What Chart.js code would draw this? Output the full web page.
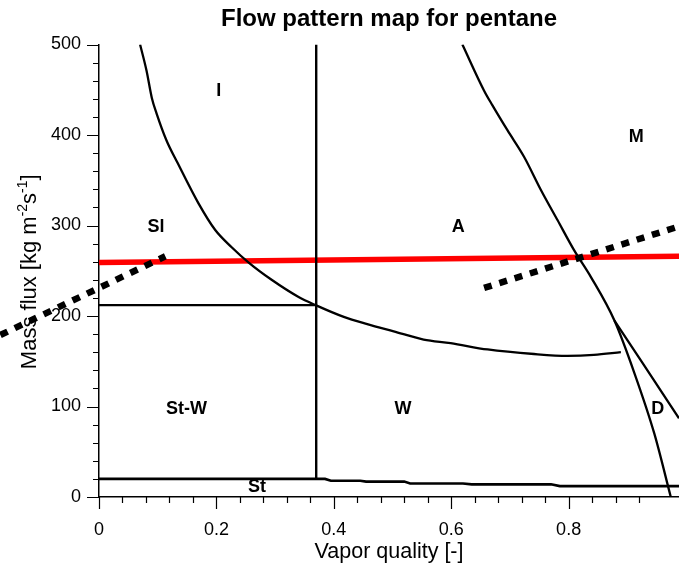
<!DOCTYPE html>
<html>
<head>
<meta charset="utf-8">
<script src="https://cdn.jsdelivr.net/npm/chart.js@4.4.0/dist/chart.umd.min.js"></script>
<style>
    html, body { margin: 0; padding: 0; background: #fff; }
    canvas { display: block; }
</style>
</head>
<body>
<canvas id="mapa" width="679" height="566"></canvas>
<script>
// axis tick labels
var xTicks = [0, 0.2, 0.4, 0.6, 0.8];
var yTicks = [0, 100, 200, 300, 400, 500];

// stratified boundary (St)
var stX = [0, 0.37, 0.385, 0.395, 0.445, 0.455, 0.52, 0.53, 0.62, 0.635, 0.77, 0.785, 0.988];
var stY = [20, 20, 20, 18, 18, 17, 17, 15, 15, 14, 14, 12, 12];

// vertical I / A and St-W / W split
var vertX = [0.37, 0.37];
var vertY = [20, 500];

// horizontal Sl / St-W split
var horizX = [0, 0.37];
var horizY = [212, 212];

// intermittent -> annular -> wavy curve
var curveIX = [0.070, 0.081, 0.090, 0.098, 0.115, 0.134, 0.169, 0.198, 0.226, 0.255, 0.294, 0.340, 0.369,
               0.417, 0.457, 0.502, 0.553, 0.599, 0.662, 0.741, 0.798, 0.843, 0.889];
var curveIY = [500, 471, 441, 424, 394, 369, 325, 295, 276, 259, 240, 221, 212,
               199, 191, 183, 174, 170, 163, 158, 156, 157, 160];

// annular -> mist / dryout curve
var curveMX = [0.619, 0.656, 0.670, 0.696, 0.724, 0.753, 0.781, 0.809, 0.838, 0.878, 0.912, 0.946, 0.974];
var curveMY = [500, 449, 433, 405, 376, 339, 306, 273, 243, 195, 137, 70, 0];

// dryout -> mist branch
var curveDX = [0.878, 0.923, 0.988];
var curveDY = [195, 151, 87];

// red transition line
var redX = [0, 0.988];
var redY = [259, 266];

// dotted transition lines
var dotLeftX = [-0.168, 0.113];
var dotLeftY = [179, 266];
var dotRightX = [0.656, 0.988];
var dotRightY = [231, 299];

// regime names
var zoneNames = ['I', 'Sl', 'A', 'M', 'St-W', 'W', 'D', 'St'];
var zoneX = [0.204, 0.097, 0.612, 0.915, 0.149, 0.518, 0.952, 0.269];
var zoneY = [449, 298, 298, 398, 97, 97, 97, 11];

var FUENTE = '"Liberation Sans", Arial, Helvetica, sans-serif';

function pares(xs, ys) {
    return xs.map(function (x, i) { return { x: x, y: ys[i] }; });
}

function esTick(lista, v) {
    return lista.some(function (t) { return Math.abs(t - v) < 1e-6; });
}

function linea(xs, ys, color, ancho, extra) {
    var ds = {
        data: pares(xs, ys),
        showLine: true,
        borderColor: color,
        borderWidth: ancho,
        pointRadius: 0,
        fill: false,
        tension: 0
    };
    for (var k in extra) { ds[k] = extra[k]; }
    return ds;
}

// tick marks: long at labelled values, short in between
var marcasTicks = {
    id: 'marcasTicks',
    afterDraw: function (chart) {
        var ctx = chart.ctx;
        var xs = chart.scales.x;
        var ys = chart.scales.y;
        var area = chart.chartArea;
        ctx.save();
        ctx.strokeStyle = '#000';
        ctx.lineWidth = 1.2;
        ctx.beginPath();
        xs.ticks.forEach(function (t) {
            var px = Math.round(xs.getPixelForValue(t.value)) + 0.5;
            var largo = esTick(xTicks, t.value) ? 12 : 6;
            ctx.moveTo(px, area.bottom);
            ctx.lineTo(px, area.bottom + largo);
        });
        ys.ticks.forEach(function (t) {
            var py = Math.round(ys.getPixelForValue(t.value)) + 0.5;
            var largo = esTick(yTicks, t.value) ? 12 : 6;
            ctx.moveTo(area.left, py);
            ctx.lineTo(area.left - largo, py);
        });
        ctx.stroke();
        ctx.restore();
    }
};

// regime names and the y axis title with superscripts
var textos = {
    id: 'textos',
    afterDraw: function (chart) {
        var ctx = chart.ctx;
        var xs = chart.scales.x;
        var ys = chart.scales.y;
        ctx.save();
        ctx.fillStyle = '#000';
        ctx.font = 'bold 18px ' + FUENTE;
        ctx.textAlign = 'center';
        ctx.textBaseline = 'middle';
        zoneNames.forEach(function (n, i) {
            ctx.fillText(n, xs.getPixelForValue(zoneX[i]), ys.getPixelForValue(zoneY[i]));
        });

        var partes = [
            { t: 'Mass flux [kg m', sup: false },
            { t: '-2', sup: true },
            { t: 's', sup: false },
            { t: '-1', sup: true },
            { t: ']', sup: false }
        ];
        var total = 0;
        partes.forEach(function (p) {
            ctx.font = (p.sup ? '14px ' : '22px ') + FUENTE;
            p.w = ctx.measureText(p.t).width;
            total += p.w;
        });
        var cy = (chart.chartArea.top + chart.chartArea.bottom) / 2 + 1;
        ctx.translate(36, cy);
        ctx.rotate(-Math.PI / 2);
        ctx.textAlign = 'left';
        ctx.textBaseline = 'alphabetic';
        var x = -total / 2;
        partes.forEach(function (p) {
            ctx.font = (p.sup ? '14px ' : '22px ') + FUENTE;
            ctx.fillText(p.t, x, p.sup ? -9 : 0);
            x += p.w;
        });
        ctx.restore();
    }
};

var mapa = new Chart(document.getElementById('mapa'), {
    type: 'scatter',
    data: {
        datasets: [
            linea(dotLeftX, dotLeftY, '#000', 6.5, { borderDash: [8, 8], clip: false }),
            linea(dotRightX, dotRightY, '#000', 6.5, { borderDash: [8, 8] }),
            linea(vertX, vertY, '#000', 2.4),
            linea(horizX, horizY, '#000', 2.2),
            linea(stX, stY, '#000', 2.6),
            linea(curveIX, curveIY, '#000', 2.3, { cubicInterpolationMode: 'monotone' }),
            linea(curveMX, curveMY, '#000', 2.3, { cubicInterpolationMode: 'monotone' }),
            linea(curveDX, curveDY, '#000', 2.3),
            linea(redX, redY, '#ff0000', 5.5)
        ]
    },
    options: {
        responsive: false,
        animation: false,
        layout: { padding: 0 },
        plugins: {
            legend: { display: false },
            tooltip: { enabled: false },
            title: {
                display: true,
                text: 'Flow pattern map for pentane',
                fullSize: false,
                color: '#000',
                font: { family: FUENTE, size: 24, weight: 'bold' },
                padding: { top: 5, bottom: 10.7 }
            }
        },
        scales: {
            x: {
                type: 'linear',
                min: 0,
                max: 0.988,
                afterFit: function (s) { s.height = 69; },
                afterBuildTicks: function (s) {
                    s.ticks = s.ticks.filter(function (t) {
                        var q = t.value / 0.04;
                        return Math.abs(q - Math.round(q)) < 1e-6;
                    });
                },
                grid: { display: false, drawTicks: true, tickLength: 12 },
                border: { display: true, color: '#000', width: 1.5 },
                ticks: {
                    stepSize: 0.04,
                    autoSkip: false,
                    maxRotation: 0,
                    color: '#000',
                    padding: 10,
                    font: { family: FUENTE, size: 18 },
                    callback: function (v) {
                        return esTick(xTicks, v) ? String(Math.round(v * 10) / 10) : '';
                    }
                },
                title: {
                    display: true,
                    text: 'Vapor quality [-]',
                    color: '#000',
                    font: { family: FUENTE, size: 21.5 },
                    padding: { top: 0, bottom: 1 }
                }
            },
            y: {
                type: 'linear',
                min: 0,
                max: 500,
                afterFit: function (s) { s.width = 99; },
                grid: { display: false, drawTicks: true, tickLength: 12 },
                border: { display: true, color: '#000', width: 1.5 },
                ticks: {
                    stepSize: 20,
                    autoSkip: false,
                    color: '#000',
                    padding: 6,
                    font: { family: FUENTE, size: 18 },
                    callback: function (v) {
                        return esTick(yTicks, v) ? String(v) : '';
                    }
                }
            }
        }
    },
    plugins: [marcasTicks, textos]
});
</script>
</body>
</html>
